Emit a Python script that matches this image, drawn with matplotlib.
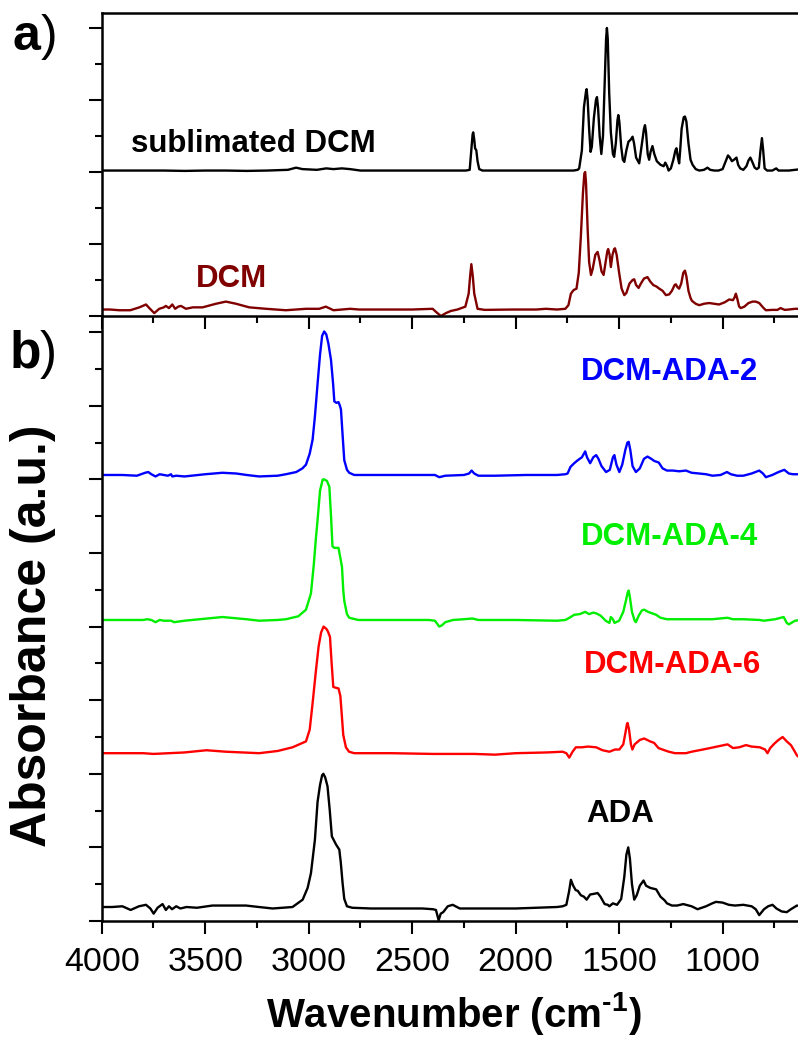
import numpy as np
import matplotlib
matplotlib.use("Agg")
import matplotlib.pyplot as plt
from matplotlib.ticker import MultipleLocator

plt.rcParams["font.family"] = ["Liberation Sans", "DejaVu Sans"]
plt.rcParams["mathtext.fontset"] = "custom"
plt.rcParams["mathtext.rm"] = "Liberation Sans"
plt.rcParams["mathtext.bf"] = "Liberation Sans:bold"

# ---------------------------------------------------------------------------
# FTIR spectra: (wavenumber cm^-1, absorbance a.u.), each relative to its own
# baseline; the vertical stacking offsets are applied when plotting.
# ---------------------------------------------------------------------------
sublimated_dcm = np.array([
    (4000, .02), (3900, .02), (3800, .02), (3700, .02), (3600, .015), (3500, .02),
    (3400, .02), (3300, .015), (3200, .02), (3100, .03), (3061, .06), (3030, .04),
    (2960, .03), (2915, .05), (2880, .04), (2840, .05), (2800, .04), (2750, .02),
    (2240, .02), (2222, .03), (2214, .30), (2208, .52), (2205, .55), (2200, .45),
    (2196, .33), (2190, .30), (2184, .15), (2176, .04), (2160, .02), (2000, .02),
    (1800, .02), (1720, .02), (1700, .03), (1693, .05), (1680, .30), (1670, .90),
    (1660, 1.12), (1657, 1.15), (1652, 1.00), (1645, .60), (1638, .28), (1632, .35),
    (1622, .75), (1612, 1.00), (1607, 1.04), (1602, .90), (1594, .50), (1586, .25),
    (1578, .50), (1570, 1.20), (1563, 1.85), (1559, 2.00), (1555, 1.85), (1548, 1.10),
    (1540, .55), (1530, .25), (1524, .21), (1516, .40), (1508, .72), (1504, .79),
    (1499, .70), (1490, .35), (1482, .17), (1475, .14), (1465, .30), (1455, .42),
    (1444, .45), (1435, .49), (1428, .40), (1418, .20), (1403, .12), (1392, .35),
    (1380, .60), (1375, .65), (1370, .55), (1362, .25), (1355, .17), (1348, .28),
    (1339, .36), (1330, .25), (1318, .15), (1300, .10), (1285, .08), (1277, .13),
    (1268, .08), (1261, .02), (1250, .05), (1238, .17), (1228, .30), (1223, .33),
    (1216, .20), (1210, .12), (1205, .30), (1198, .60), (1188, .76), (1182, .77),
    (1175, .70), (1165, .40), (1155, .17), (1145, .10), (1130, .04), (1113, .02),
    (1090, .03), (1073, .06), (1060, .03), (1040, .02), (1020, .02), (1000, .04),
    (985, .15), (974, .23), (965, .20), (955, .15), (945, .17), (933, .20),
    (925, .10), (915, .05), (900, .03), (885, .08), (875, .16), (866, .20),
    (858, .15), (845, .06), (835, .04), (825, .06), (817, .30), (810, .47),
    (804, .30), (797, .05), (785, .02), (760, .02), (741, .05), (730, .02),
    (700, .02), (680, .02), (650, .03), (620, .04),
])

dcm = np.array([
    (4000, .09), (3960, .09), (3915, .08), (3862, .08), (3818, .12), (3786, .16),
    (3770, .11), (3746, .04), (3722, .10), (3700, .12), (3690, .14), (3675, .11),
    (3659, .16), (3645, .10), (3630, .13), (3617, .14), (3593, .10), (3560, .12),
    (3513, .12), (3448, .17), (3400, .20), (3351, .17), (3287, .12), (3206, .10),
    (3110, .08), (3013, .10), (2949, .10), (2917, .13), (2880, .08), (2800, .10),
    (2756, .09), (2659, .09), (2500, .09), (2401, .10), (2382, .05), (2361, .00),
    (2337, .04), (2313, .07), (2281, .09), (2243, .13), (2227, .31), (2220, .55),
    (2214, .72), (2207, .55), (2200, .31), (2184, .10), (2150, .085), (2015, .09),
    (1900, .09), (1854, .10), (1800, .09), (1760, .10), (1745, .15), (1733, .31),
    (1720, .36), (1706, .38), (1695, .60), (1685, 1.10), (1675, 1.70), (1668, 1.98),
    (1664, 2.00), (1660, 1.85), (1652, 1.20), (1645, .75), (1636, .57), (1628, .65),
    (1615, .85), (1604, .89), (1595, .78), (1585, .62), (1575, .57), (1565, .75),
    (1557, .90), (1553, .93), (1546, .85), (1540, .68), (1532, .85), (1524, .93),
    (1520, .94), (1512, .85), (1500, .60), (1488, .38), (1475, .29), (1465, .32),
    (1450, .45), (1435, .50), (1427, .51), (1418, .43), (1406, .39), (1395, .45),
    (1380, .52), (1363, .54), (1350, .48), (1335, .43), (1320, .41), (1306, .38),
    (1290, .35), (1274, .29), (1258, .30), (1245, .35), (1232, .43), (1226, .44),
    (1218, .40), (1210, .38), (1200, .45), (1190, .60), (1182, .63), (1175, .55),
    (1165, .35), (1155, .25), (1148, .21), (1130, .17), (1113, .15), (1090, .17),
    (1065, .18), (1040, .17), (1017, .16), (990, .19), (968, .23), (950, .22),
    (942, .26), (936, .31), (930, .25), (920, .13), (912, .11), (895, .13),
    (875, .18), (855, .20), (840, .20), (823, .18), (805, .12), (791, .08),
    (760, .085), (735, .085), (720, .11), (700, .085), (680, .09), (650, .10),
    (620, .10),
])

dcm_ada_2 = np.array([
    (4000, .06), (3900, .06), (3830, .05), (3790, .09), (3775, .10), (3760, .07),
    (3740, .04), (3720, .07), (3700, .06), (3680, .05), (3665, .07), (3659, .04),
    (3640, .05), (3600, .04), (3500, .07), (3417, .09), (3350, .08), (3300, .06),
    (3239, .04), (3150, .05), (3110, .07), (3060, .10), (3030, .15), (3013, .20),
    (2995, .35), (2981, .54), (2970, .85), (2957, 1.30), (2945, 1.70), (2935, 1.95),
    (2925, 2.01), (2915, 1.97), (2905, 1.85), (2892, 1.62), (2882, 1.30), (2876, 1.06),
    (2866, 1.04), (2856, 1.05), (2849, 1.00), (2844, .95), (2836, .60), (2828, .26),
    (2815, .13), (2804, .09), (2780, .06), (2700, .06), (2450, .06), (2390, .06),
    (2369, .03), (2340, .05), (2250, .06), (2225, .08), (2213, .12), (2200, .08),
    (2180, .05), (2100, .05), (1950, .06), (1800, .06), (1760, .07), (1749, .08),
    (1735, .17), (1717, .22), (1700, .26), (1680, .30), (1664, .38), (1655, .30),
    (1640, .22), (1625, .30), (1611, .33), (1600, .28), (1585, .18), (1563, .10),
    (1545, .13), (1530, .30), (1523, .33), (1513, .20), (1499, .10), (1485, .20),
    (1470, .40), (1460, .50), (1454, .51), (1446, .40), (1435, .18), (1419, .10),
    (1400, .15), (1380, .28), (1363, .31), (1345, .28), (1330, .25), (1309, .23),
    (1290, .15), (1269, .12), (1240, .12), (1210, .11), (1177, .12), (1150, .09),
    (1113, .08), (1080, .07), (1049, .05), (1010, .06), (979, .10), (960, .07),
    (930, .05), (900, .05), (860, .08), (823, .12), (805, .08), (791, .03),
    (760, .06), (730, .10), (702, .13), (680, .08), (660, .07), (620, .07),
])

dcm_ada_4 = np.array([
    (4000, .09), (3900, .09), (3800, .09), (3780, .10), (3760, .09), (3740, .06),
    (3720, .09), (3700, .08), (3665, .08), (3650, .06), (3600, .08), (3417, .13),
    (3300, .10), (3239, .08), (3150, .09), (3110, .10), (3050, .14), (3013, .23),
    (2989, .45), (2975, .85), (2965, 1.20), (2957, 1.45), (2945, 1.85), (2932, 2.00),
    (2925, 2.00), (2912, 1.98), (2900, 1.90), (2892, 1.50), (2885, 1.09), (2876, 1.07),
    (2856, 1.07), (2848, .95), (2839, .81), (2833, .50), (2828, .35), (2815, .17),
    (2804, .12), (2760, .09), (2700, .09), (2420, .09), (2390, .08), (2369, .00),
    (2355, .02), (2340, .06), (2303, .09), (2250, .10), (2209, .11), (2180, .09),
    (2000, .09), (1800, .08), (1760, .09), (1740, .12), (1717, .16), (1690, .17),
    (1664, .20), (1645, .17), (1625, .19), (1611, .18), (1590, .15), (1565, .08),
    (1547, .05), (1540, .13), (1530, .10), (1522, .05), (1500, .08), (1480, .20),
    (1465, .38), (1458, .47), (1454, .49), (1448, .40), (1438, .20), (1425, .08),
    (1419, .06), (1405, .15), (1390, .22), (1379, .23), (1360, .20), (1340, .18),
    (1321, .16), (1300, .12), (1269, .10), (1200, .10), (1150, .10), (1050, .10),
    (976, .12), (950, .10), (900, .10), (822, .09), (800, .08), (746, .10),
    (705, .13), (690, .05), (680, .03), (650, .08), (620, .09),
])

dcm_ada_6 = np.array([
    (4000, .08), (3800, .08), (3750, .07), (3600, .09), (3494, .12), (3400, .10),
    (3239, .08), (3150, .11), (3078, .16), (3013, .24), (2995, .40), (2981, .76),
    (2965, 1.20), (2952, 1.53), (2940, 1.72), (2928, 1.80), (2915, 1.77), (2908, 1.74),
    (2897, 1.66), (2889, 1.30), (2881, .98), (2870, .97), (2856, .96), (2847, .86),
    (2840, .60), (2833, .33), (2820, .16), (2805, .10), (2780, .08), (2600, .08),
    (2400, .07), (2200, .07), (2100, .06), (2000, .08), (1850, .09), (1773, .10),
    (1755, .08), (1741, .02), (1725, .10), (1709, .16), (1680, .16), (1650, .17),
    (1611, .16), (1580, .12), (1547, .10), (1520, .13), (1499, .13), (1480, .20),
    (1470, .35), (1462, .48), (1459, .49), (1452, .40), (1443, .20), (1436, .13),
    (1425, .20), (1400, .26), (1379, .28), (1350, .24), (1331, .22), (1310, .15),
    (1291, .13), (1260, .10), (1230, .08), (1177, .08), (1150, .10), (1113, .12),
    (1060, .15), (1010, .18), (976, .20), (950, .15), (920, .16), (887, .19),
    (860, .17), (820, .16), (795, .13), (783, .08), (770, .15), (750, .21),
    (730, .26), (710, .30), (690, .24), (670, .19), (655, .12), (641, .05),
    (620, .00),
])

ada = np.array([
    (4000, .19), (3950, .19), (3900, .20), (3860, .15), (3820, .20), (3786, .22),
    (3765, .17), (3749, .10), (3730, .18), (3706, .23), (3690, .15), (3675, .20),
    (3660, .16), (3640, .20), (3620, .17), (3590, .19), (3540, .18), (3465, .21),
    (3303, .21), (3240, .19), (3174, .17), (3078, .19), (3029, .29), (3005, .45),
    (2989, .65), (2970, 1.10), (2957, 1.62), (2945, 1.85), (2935, 1.98), (2929, 2.00),
    (2920, 1.95), (2909, 1.83), (2898, 1.50), (2888, 1.15), (2868, 1.04), (2852, .97),
    (2845, .80), (2836, .51), (2828, .30), (2815, .20), (2790, .18), (2700, .17),
    (2600, .17), (2450, .17), (2400, .16), (2385, .15), (2372, .01), (2362, .10),
    (2350, .12), (2328, .20), (2304, .22), (2270, .17), (2150, .17), (2000, .17),
    (1900, .18), (1800, .19), (1773, .20), (1755, .22), (1742, .40), (1733, .56),
    (1722, .48), (1710, .42), (1700, .41), (1685, .35), (1670, .33), (1657, .29),
    (1640, .36), (1620, .37), (1604, .38), (1590, .33), (1570, .23), (1555, .22),
    (1547, .20), (1530, .24), (1510, .22), (1490, .30), (1475, .60), (1465, .90),
    (1456, 1.00), (1448, .85), (1438, .50), (1427, .29), (1415, .35), (1400, .48),
    (1382, .55), (1370, .48), (1350, .45), (1321, .43), (1300, .33), (1280, .28),
    (1269, .24), (1245, .21), (1220, .21), (1190, .23), (1150, .20), (1121, .16),
    (1080, .20), (1050, .24), (1032, .26), (1000, .25), (970, .22), (940, .21),
    (900, .22), (860, .20), (840, .16), (823, .08), (800, .16), (780, .20),
    (759, .22), (740, .17), (715, .13), (690, .12), (670, .16), (641, .21),
    (620, .20),
])

# panel, spectrum, label, colour, stacking offset, label anchor (wavenumber, absorbance)
panel_a = [
    (sublimated_dcm, "sublimated DCM", "#000000", 2.0, (3269, 2.28)),
    (dcm, "DCM", "#800000", 0.0, (3372, 0.40)),
]
panel_b = [
    (dcm_ada_2, "DCM-ADA-2", "#0000FF", 6.0, (1259, 7.35)),
    (dcm_ada_4, "DCM-ADA-4", "#00EE00", 4.0, (1259, 5.11)),
    (dcm_ada_6, "DCM-ADA-6", "#FF0000", 2.2, (1242, 3.37)),
    (ada, "ADA", "#000000", 0.0, (1494, 1.35)),
]

FIG_W, FIG_H = 798, 1037
fig = plt.figure(figsize=(FIG_W / 100, FIG_H / 100), dpi=100)


def px_box(left, top, right, bottom):
    return [left / FIG_W, 1 - bottom / FIG_H, (right - left) / FIG_W, (bottom - top) / FIG_H]


def fx(x):
    return x / FIG_W


def fy(y):
    return 1 - y / FIG_H


ax_b = fig.add_axes(px_box(101.7, 316, 805.4, 921))
ax_a = fig.add_axes(px_box(101.7, 13, 805.4, 316))
ax_a.set_zorder(2)
ax_b.set_zorder(1)
ax_a.patch.set_visible(False)


def style(ax, ymax, show_labels):
    ax.set_xlim(4000, 600)
    ax.set_ylim(0, ymax)
    ax.xaxis.set_major_locator(MultipleLocator(500))
    ax.xaxis.set_minor_locator(MultipleLocator(250))
    ax.yaxis.set_major_locator(MultipleLocator(1))
    ax.yaxis.set_minor_locator(MultipleLocator(0.5))
    ax.tick_params(which="both", direction="out", width=1.5, top=False, right=False,
                   color="black")
    ax.tick_params(which="major", length=9.5)
    ax.tick_params(which="minor", length=4.8)
    ax.tick_params(axis="y", labelleft=False)
    ax.tick_params(axis="x", labelbottom=show_labels, labelsize=24.5, pad=9)
    for spine in ax.spines.values():
        spine.set_linewidth(1.8)


style(ax_a, 4.208, False)
style(ax_b, 8.22, True)
ax_b.spines["top"].set_visible(False)

for ax, entries in ((ax_a, panel_a), (ax_b, panel_b)):
    for spec, label, color, offset, (lx, ly) in entries:
        ax.plot(spec[:, 0], spec[:, 1] + offset, color=color, lw=1.7,
                solid_joinstyle="round")
        ax.text(lx, ly, label, color=color, fontsize=22.5, fontweight="bold",
                ha="center", va="baseline")

# panel letters
fig.text(fx(13), fy(50), "a", fontsize=36, fontweight="bold", ha="left", va="baseline")
fig.text(fx(40.5), fy(50), ")", fontsize=36, ha="left", va="baseline")
fig.text(fx(9.5), fy(368), "b", fontsize=37, fontweight="bold", ha="left", va="baseline")
fig.text(fx(40), fy(368), ")", fontsize=37, ha="left", va="baseline")

# axis titles
fig.text(fx(33), fy(636), "Absorbance (a.u.)", rotation=90, fontsize=36,
         fontweight="bold", ha="center", va="center")
fig.text(fx(453.5), fy(1027), "Wavenumber (cm$^{\\mathbf{\u2010}\\mathbf{1}}$)",
         fontsize=29, fontweight="bold", ha="center", va="baseline")

fig.savefig("out.png", dpi=100)
